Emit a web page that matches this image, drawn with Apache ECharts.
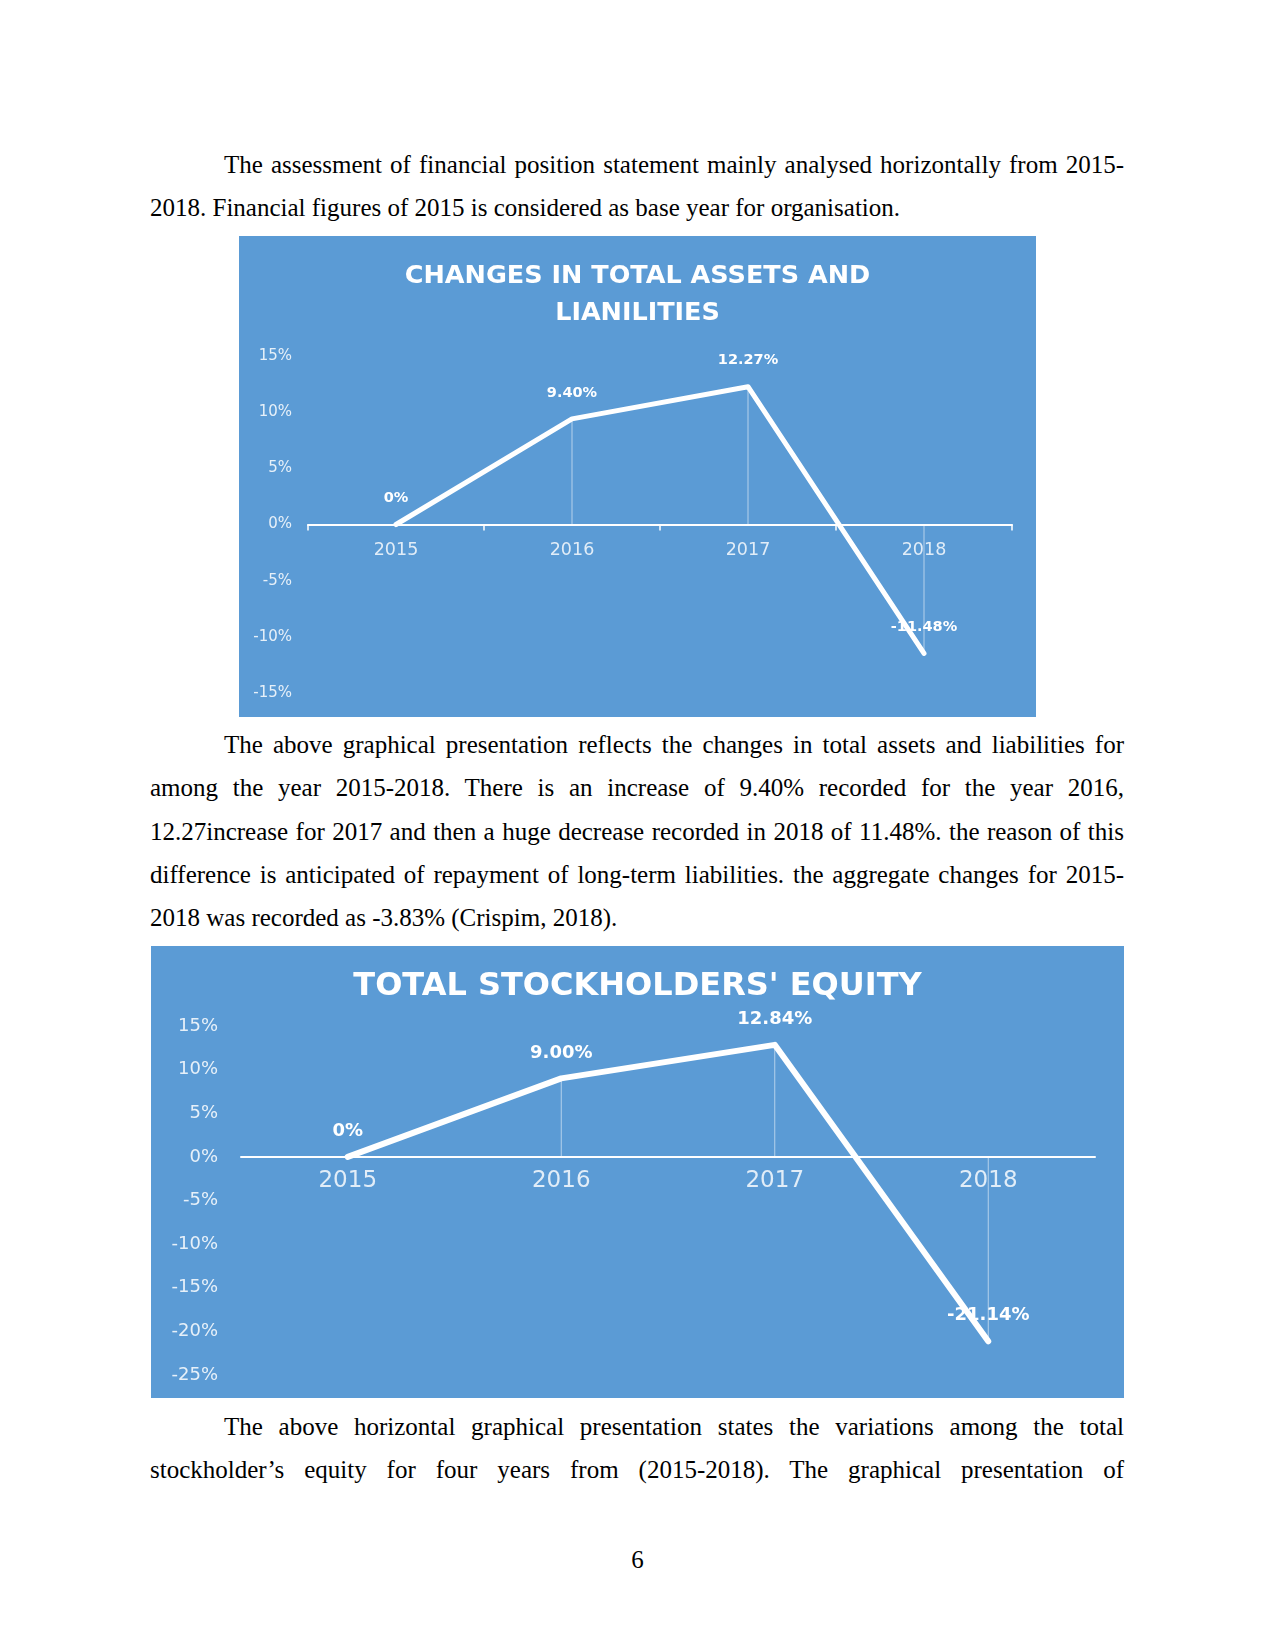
<!DOCTYPE html>
<html><head><meta charset="utf-8">
<script src="https://cdn.jsdelivr.net/npm/echarts@6/dist/echarts.min.js"></script>
<style>
html,body{margin:0;padding:0;background:#fff;width:1275px;height:1651px;overflow:hidden;}
.ln{position:absolute;font-family:"Liberation Serif","Times New Roman",serif;font-size:25px;line-height:43px;height:43px;color:#000;}
.j{text-align:justify;text-align-last:justify;}
.f{left:150px;width:974px;}
.i{left:224px;width:900px;}
#c1{position:absolute;left:239px;top:236px;width:797px;height:481px;}
#c2{position:absolute;left:151px;top:946px;width:973px;height:452px;}
</style></head>
<body>
<div class="ln i j" style="top:143px">The assessment of financial position statement mainly analysed horizontally from 2015-</div>
<div class="ln f" style="top:186px">2018. Financial figures of 2015 is considered as base year for organisation.</div>
<div id="c1"></div>
<div class="ln i j" style="top:723px">The above graphical presentation reflects the changes in total assets and liabilities for</div>
<div class="ln f j" style="top:766px">among the year 2015-2018. There is an increase of 9.40% recorded for the year 2016,</div>
<div class="ln f j" style="top:810px">12.27increase for 2017 and then a huge decrease recorded in 2018 of 11.48%. the reason of this</div>
<div class="ln f j" style="top:853px">difference is anticipated of repayment of long-term liabilities. the aggregate changes for 2015-</div>
<div class="ln f" style="top:896px">2018 was recorded as -3.83% (Crispim, 2018).</div>
<div id="c2"></div>
<div class="ln i j" style="top:1405px">The above horizontal graphical presentation states the variations among the total</div>
<div class="ln f j" style="top:1448px">stockholder’s equity for four years from (2015-2018). The graphical presentation of</div>
<div class="ln" style="top:1538px;left:0;width:1275px;text-align:center">6</div>
<script>
const years = ['2015', '2016', '2017', '2018'];
const assetsChange = [0, 9.40, 12.27, -11.48];
const equityChange = [0, 9.00, 12.84, -21.14];
const assetsTicks = [-15, -10, -5, 0, 5, 10, 15];
const equityTicks = [-25, -20, -15, -10, -5, 0, 5, 10, 15];
const assetsTitle = 'CHANGES IN TOTAL ASSETS AND\nLIANILITIES';
const equityTitle = "TOTAL STOCKHOLDERS' EQUITY";

function pct(v) { return v === 0 ? '0%' : v.toFixed(2) + '%'; }

function build(o) {
  const mn = o.ticksArr[0], mx = o.ticksArr[o.ticksArr.length - 1];
  // move the category axis (line + labels) up to the zero line, like the spreadsheet chart
  const plotH = o.height - o.grid[2] - o.grid[3];
  const zeroOffset = -plotH * (0 - mn) / (mx - mn);
  return {
    backgroundColor: '#5B9BD5',
    animation: false,
    title: {
      text: o.title, left: 'center', top: o.titleTop,
      textStyle: { color: '#fff', fontFamily: 'DejaVu Sans', fontWeight: 'bold', fontSize: o.titleSize, lineHeight: o.titleLH }
    },
    grid: { left: o.grid[0], right: o.grid[1], top: o.grid[2], bottom: o.grid[3], outerBoundsMode: 'none', containLabel: false },
    xAxis: {
      type: 'category', data: years, boundaryGap: true, offset: zeroOffset,
      axisLine: { onZero: false, lineStyle: { color: '#fff', width: 2 } },
      axisTick: { show: o.ticks, length: 6, lineStyle: { color: '#fff', width: 1.5 } },
      axisLabel: { color: 'rgba(255,255,255,0.82)', fontFamily: 'DejaVu Sans', fontSize: o.xFont, margin: o.xMargin },
      splitLine: { show: false }
    },
    yAxis: {
      type: 'value', min: mn, max: mx, interval: o.ticksArr[1] - o.ticksArr[0],
      axisLine: { show: false }, axisTick: { show: false }, splitLine: { show: false },
      axisLabel: { formatter: '{value}%', color: 'rgba(255,255,255,0.85)', fontFamily: 'DejaVu Sans', fontSize: o.yFont, margin: o.yMargin }
    },
    series: [
      { type: 'bar', data: o.values, barWidth: 1, itemStyle: { color: 'rgba(255,255,255,0.55)' }, silent: true, z: 1 },
      {
        type: 'line', data: o.values, symbol: 'circle', symbolSize: 1, showSymbol: true,
        lineStyle: { color: '#fff', width: o.lw, cap: 'round', join: 'round' },
        itemStyle: { color: '#fff' },
        label: { show: true, position: 'top', distance: o.labelDist, formatter: p => pct(p.value),
          color: '#fff', fontFamily: 'DejaVu Sans', fontWeight: 'bold', fontSize: o.labelSize },
        z: 3
      }
    ]
  };
}

echarts.init(document.getElementById('c1')).setOption(build({
  title: assetsTitle, titleTop: 17, titleSize: 25.5, titleLH: 37, height: 481,
  grid: [69, 24, 120, 24], ticks: true, xFont: 17.5, xMargin: 17, yFont: 15, yMargin: 16,
  ticksArr: assetsTicks, values: assetsChange, lw: 5, labelDist: 18, labelSize: 14.5
}));
echarts.init(document.getElementById('c2')).setOption(build({
  title: equityTitle, titleTop: 18, titleSize: 32, titleLH: 36, height: 452,
  grid: [90, 29, 80, 23], ticks: false, xFont: 23, xMargin: 13, yFont: 18, yMargin: 23,
  ticksArr: equityTicks, values: equityChange, lw: 6, labelDist: 16, labelSize: 18
}));
</script>
</body></html>
